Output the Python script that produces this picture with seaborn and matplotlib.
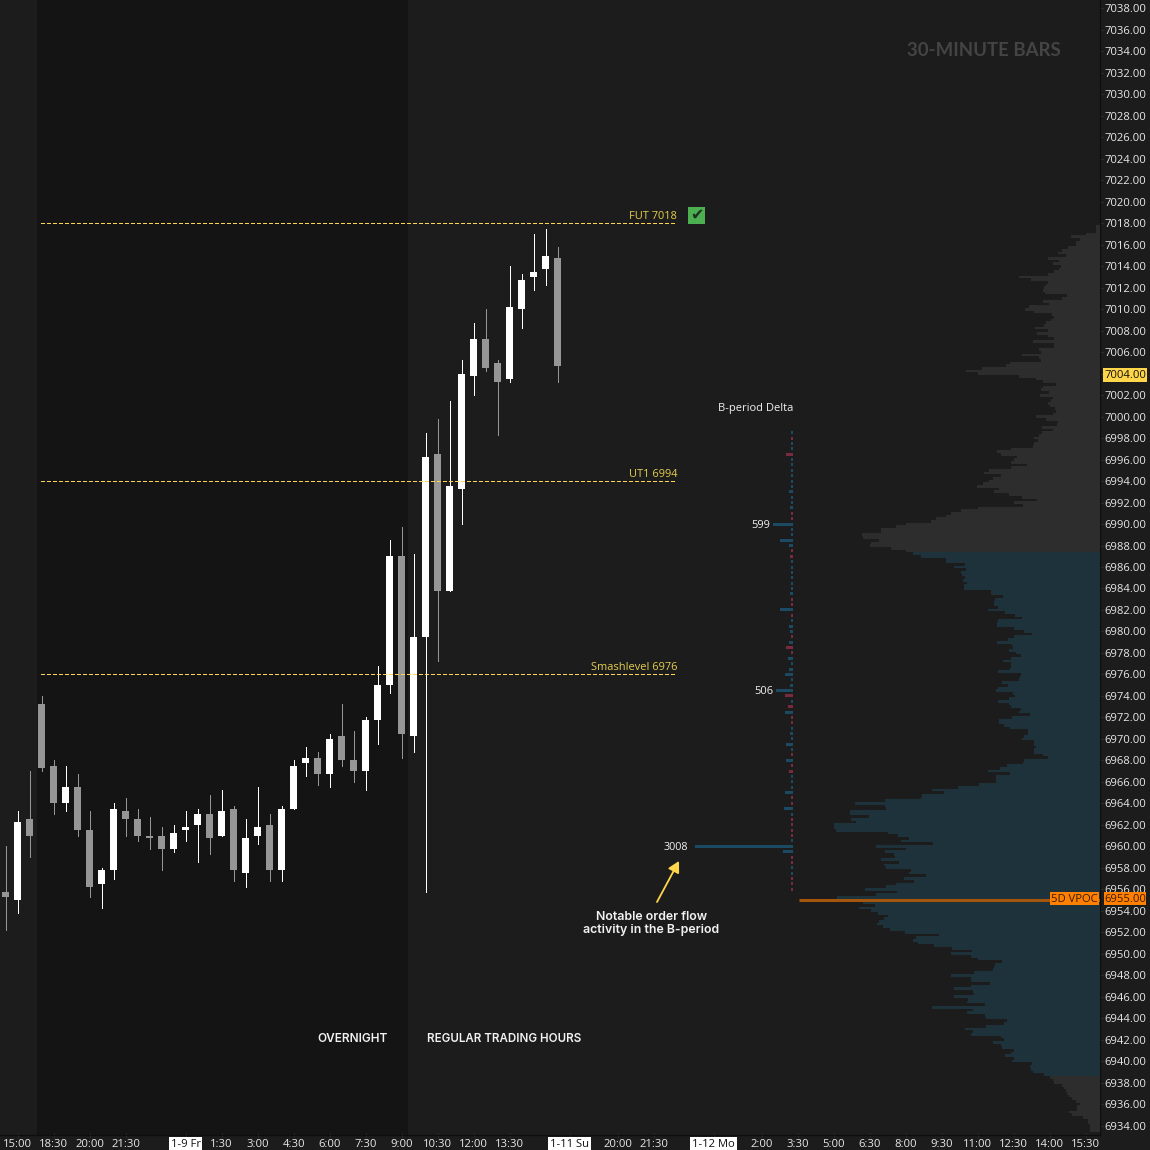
import numpy as np
import pandas as pd
import seaborn as sns
import matplotlib.pyplot as plt
from matplotlib.patches import Rectangle

# 30-minute bars, oldest first
opens = [6955.75, 6955, 6962.5, 6973.25, 6967.5, 6964, 6965.5, 6961.5, 6956.5, 6957.75,
         6963.25, 6962.5, 6961, 6961, 6959.75, 6961.5, 6962, 6963, 6961, 6963.5,
         6957.5, 6961, 6962, 6957.75, 6963.5, 6967.75, 6968.25, 6966.75, 6970.25, 6968,
         6967, 6971.75, 6975, 6987, 6970.25, 6979.5, 6996.5, 6983.75, 6993.25, 7003.75,
         7007.25, 7005, 7003.5, 7010, 7013, 7013.75, 7014.75]
highs = [6960, 6963.25, 6967, 6974, 6968, 6967.5, 6966.75, 6963.25, 6958, 6964,
         6964.5, 6963.5, 6962.75, 6961.75, 6962, 6963.25, 6963.5, 6964.75, 6965.25, 6963.75,
         6962.5, 6965.5, 6963, 6963.75, 6968, 6969.25, 6968.75, 6970.5, 6973.25, 6970.75,
         6972, 6976.75, 6988.5, 6989.75, 6987.25, 6998.5, 6999.75, 7001.5, 7005.25, 7008.75,
         7010, 7005.25, 7014, 7013.25, 7017, 7017.5, 7015.75]
lows = [6952.25, 6953.75, 6959, 6967, 6963, 6963.25, 6961, 6955.25, 6954.25, 6957,
        6961, 6960.5, 6959.75, 6957.75, 6959.5, 6960.5, 6958.5, 6959.25, 6961, 6956.75,
        6956.25, 6960.25, 6956.75, 6956.75, 6963.5, 6966.5, 6965.75, 6965.5, 6967.5, 6966,
        6965.25, 6969.5, 6974.25, 6968.25, 6968.75, 6955.75, 6977.25, 6983.75, 6990, 7002,
        7004.25, 6998.25, 7003.25, 7008.25, 7011.75, 7012.25, 7003.25]
closes = [6955.25, 6962.25, 6961, 6967.25, 6964, 6965.5, 6961.5, 6956.25, 6957.75, 6963.5,
          6962.5, 6961, 6960.75, 6959.75, 6961.25, 6961.75, 6963, 6960.75, 6963.25, 6957.75,
          6960.75, 6961.75, 6957.75, 6963.5, 6967.5, 6968.25, 6966.75, 6970, 6968, 6967,
          6971.75, 6975, 6987, 6970.5, 6979.5, 6996.25, 6983.75, 6993.5, 7004, 7007.25,
          7004.5, 7003.25, 7010.25, 7012.75, 7013.5, 7015, 7004.75]

# volume profile, one value per 0.25 price row, top row first (relative volume)
profile_top_price = 7017.75
profile_upper = [4, 4, 4, 14, 29, 20, 24, 24, 32, 38, 42, 34, 52, 41, 47, 39, 41, 46, 52, 81,
                 69, 52, 54, 56, 57, 55, 33, 38, 57, 51, 71, 75, 66, 48, 46, 49, 54, 56, 65, 52,
                 63, 52, 46, 67, 46, 46, 61, 59, 78, 61, 59, 90, 94, 118, 134, 122, 81, 64, 57, 44,
                 57, 59, 51, 60, 47, 49, 52, 50, 45, 44, 47, 64, 54, 42, 43, 58, 47, 58, 61, 66,
                 62, 66, 67, 89, 103, 99, 83, 86, 89, 73, 89, 111, 116, 99, 107, 111, 117, 123, 101, 106,
                 91, 78, 63, 86, 77, 122, 139, 149, 154, 164, 169, 194, 204, 219, 219, 238, 237, 221, 229, 230,
                 209, 194]
profile_value_area = [187, 179, 154, 154, 135, 146, 134, 139, 138, 135, 137, 133, 136, 136, 109, 109, 97, 105, 106, 106,
                      102, 112, 95, 85, 78, 102, 103, 103, 86, 76, 68, 86, 92, 103, 88, 87, 91, 84, 79, 89,
                      97, 89, 89, 90, 102, 79, 80, 81, 98, 92, 102, 104, 87, 85, 91, 102, 91, 89, 79, 81,
                      70, 88, 101, 101, 96, 90, 72, 72, 76, 78, 66, 66, 64, 66, 66, 57, 52, 76, 77, 93,
                      100, 112, 90, 104, 104, 104, 121, 142,
                      168, 156, 178, 179, 215, 245, 215, 214, 250, 250, 231, 249, 244, 266, 266, 264, 212, 202, 191, 199,
                      167, 224, 194, 215, 206, 205, 219, 201, 216, 214, 189, 191, 174, 196, 186, 204, 214, 235, 203, 224,
                      263, 300, 237, 225, 241, 229, 222, 212, 216, 221, 223, 217, 210, 195, 161, 184, 187, 182, 166, 148,
                      128, 149, 129, 122, 98, 105, 106, 107, 126, 149, 129, 129, 110, 129, 146, 127, 126, 146, 132, 133,
                      115, 168, 127, 133, 115, 114, 93, 96, 114, 135, 127, 129, 99, 96, 107, 99, 98, 86, 89, 95,
                      86, 88, 68, 70, 69, 67, 56]
profile_lower = [50, 47, 46, 38, 36, 34, 33, 31, 28, 24, 20, 23, 23, 31, 28, 17, 12, 12, 10, 10, 10]

# B-period delta, one value per 0.5 price row, top row first; negative = sellers
delta_top_price = 6998.5
delta_values = [60, -31, 31, 31, -185, 31, 31, 31, 31, 31,
                60, 120, 31, 31, 90, -31, -31, 599, 31, 60,
                370, 120, -31, -90, 31, 31, 60, 31, 31, 60,
                90, -60, -60, 370, -31, 31, 120, 90, -31, 120,
                -185, -31, 150, 31, 120, 215, 31, 90, 506, -245,
                31, -150, 215, -31, -31, 60, 90, 31, 185, 31,
                -31, 185, -31, -120, 31, 31, 31, 245, -31, -31,
                275, 60, -31, -31, -31, -60, 31, 3008, 305, -60,
                -31, 31, 31, -31, -60, -31]

# session shading, levels and axis labels
overnight_start, overnight_end = 2.64, 33.54
level_names = ["FUT 7018", "UT1 6994", "Smashlevel 6976"]
level_prices = [7018, 6994, 6976]
vpoc_price = 6955
last_price = 7004
price_ticks = list(range(6934, 7040, 2))
time_tick_pos = [1, 4, 7, 10, 15, 18, 21, 24, 27, 30, 33, 36, 39, 42, 47, 51, 54, 59, 63, 66, 69, 72, 75, 78, 81, 84, 87, 90]
time_tick_labels = ["15:00", "18:30", "20:00", "21:30", "1-9 Fr", "1:30", "3:00", "4:30", "6:00", "7:30", "9:00",
                    "10:30", "12:00", "13:30", "1-11 Su", "20:00", "21:30", "1-12 Mo", "2:00", "3:30", "5:00",
                    "6:30", "8:00", "9:30", "11:00", "12:30", "14:00", "15:30"]
date_labels = ["1-9 Fr", "1-11 Su", "1-12 Mo"]

BG = "#1c1c1c"
SHADE = "#141414"
WHITE = "#ffffff"
GRAY = "#969696"
YELLOW = "#ffd54a"
ORANGE = "#ff7f00"
TICK_FONT = ["Open Sans", "DejaVu Sans"]
NOTE_FONT = ["Inter", "DejaVu Sans"]

sns.set_theme(style="dark", rc={"figure.facecolor": BG, "axes.facecolor": BG, "savefig.facecolor": BG})
plt.rcParams["font.family"] = TICK_FONT

W, H = 1150, 1150
PLOT_W, PLOT_H = 1100, 1135
fig = plt.figure(figsize=(W / 100, H / 100), dpi=100)
rect = [0, (H - PLOT_H) / H, PLOT_W / W, PLOT_H / H]
ylim = (6933.12, 7038.79)
xlim = (-5.5 / 12, (PLOT_W - 5.5) / 12)


def px(x, y, text, **kw):
    # place a text by its pixel position in the picture
    return fig.text(x / W, 1 - y / H, text, **kw)


ax = fig.add_axes(rect)
ax.set_facecolor(BG)

# price axis and time axis
ax.yaxis.tick_right()
ax.set_yticks(price_ticks)
ax.set_yticklabels([f"{p}.00" for p in price_ticks], fontsize=8.1, color="#e8e8e8")
ax.set_xticks(time_tick_pos)
ax.set_xticklabels(time_tick_labels, fontsize=8.1, color="#e8e8e8")
ax.tick_params(axis="y", length=2, width=0.7, color="#333333", pad=1, right=True, left=False)
ax.tick_params(axis="x", length=3, width=0.7, color="#333333", pad=1.5, bottom=True, direction="inout")
for name, spine in ax.spines.items():
    spine.set_visible(name in ("right", "bottom"))
    spine.set_color("#0e0e0e")
    spine.set_linewidth(1.0)
for label in ax.get_xticklabels():
    if label.get_text() in date_labels:
        label.set_color("#111111")
        label.set_bbox(dict(facecolor=WHITE, edgecolor="none", pad=1.2))
for label in ax.get_yticklabels():
    if label.get_text() == f"{last_price}.00":
        label.set_color("#111111")
        label.set_bbox(dict(facecolor=YELLOW, edgecolor="none", pad=1.0))

ax.axvspan(overnight_start, overnight_end, color=SHADE, lw=0, zorder=0)

# candles
x = np.arange(len(opens))
o, hi, lo, c = map(np.array, (opens, highs, lows, closes))
colors = [WHITE if cl >= op else GRAY for op, cl in zip(o, c)]
ax.vlines(x, lo, hi, colors=colors, lw=0.72, zorder=3, antialiased=False)
ax.bar(x, np.abs(c - o), bottom=np.minimum(o, c), width=7 / 12, color=colors, lw=0, zorder=4, antialiased=False)

# levels
for name, price in zip(level_names, level_prices):
    ax.plot([(41 - 5.5) / 12, (676 - 5.5) / 12], [price, price], color=YELLOW, lw=0.72,
            dashes=(4, 2.2), zorder=5, antialiased=False)
    ax.annotate(name, xy=((677 - 5.5) / 12, price), xytext=(0, 0.8), textcoords="offset points",
                ha="right", va="bottom", fontsize=7.9, color="#e6cf4e", zorder=6)
ax.set_xlim(xlim)
ax.set_ylim(ylim)

# volume profile, unit = one pixel from the right edge of the plot
n_up, n_va, n_lo = len(profile_upper), len(profile_value_area), len(profile_lower)
profile = pd.DataFrame({
    "price": profile_top_price - 0.25 * np.arange(n_up + n_va + n_lo),
    "volume": profile_upper + profile_value_area + profile_lower,
    "zone": ["out"] * n_up + ["va"] * n_va + ["out"] * n_lo,
})
ax_p = fig.add_axes(rect)
ax_p.patch.set_alpha(0)
sns.barplot(data=profile, y="price", x="volume", hue="zone", orient="y", native_scale=True,
            dodge=False, width=1, palette={"out": "#2d2d2d", "va": "#1e323c"}, saturation=1,
            errorbar=None, legend=False, linewidth=0, ax=ax_p)
ax_p.set_xlim(PLOT_W, 0)
ax_p.set_ylim(ylim)
ax_p.axis("off")
for bar in ax_p.patches:
    bar.set_antialiased(False)

# B-period delta, unit = contracts, drawn to the left of x = 792.5 px
delta = pd.DataFrame({
    "price": delta_top_price - 0.5 * np.arange(len(delta_values)),
    "size": np.abs(delta_values),
    "side": ["buy" if v > 0 else "sell" for v in delta_values],
})
scale = 3008 / 98
ax_d = fig.add_axes(rect)
ax_d.patch.set_alpha(0)
sns.barplot(data=delta, y="price", x="size", hue="side", orient="y", native_scale=True, dodge=False,
            width=0.56, palette={"buy": "#1d4a63", "sell": "#7a2a40"}, saturation=1, errorbar=None,
            legend=False, linewidth=0, ax=ax_d)
ax_d.set_xlim(792.5 * scale, (792.5 - PLOT_W) * scale)
ax_d.set_ylim(ylim)
ax_d.axis("off")
for bar in ax_d.patches:
    bar.set_antialiased(False)

# point of control across the profile
ax_d.plot([(792.5 - 799) * scale, (792.5 - PLOT_W) * scale], [vpoc_price, vpoc_price],
          color="#a3560c", lw=2.2, solid_capstyle="butt", zorder=5)

# boxes for the VPOC
fig.add_artist(Rectangle((1050 / W, 1 - 905 / H), 49 / W, 13 / H, color=ORANGE, lw=0))
fig.add_artist(Rectangle((1104 / W, 1 - 905 / H), 42 / W, 13 / H, color=ORANGE, lw=0))
px(1074, 899, "5D VPOC", fontsize=8.1, color="#3a1c00", ha="center", va="center")
px(1125, 899, f"{vpoc_price}.00", fontsize=8.1, color="#3a1c00", ha="center", va="center")

# check mark next to the FUT level
fig.add_artist(Rectangle((688 / W, 1 - 224 / H), 17 / W, 17 / H, color="#4caf50", lw=0))
px(696.5, 215.5, "\u2714", fontsize=11.5, color="#1c3320", ha="center", va="center",
   family="DejaVu Sans")

# notes
px(984, 51, "30-MINUTE BARS", fontsize=13.4, color="#444444", ha="center", va="center",
   family=["Lato", "DejaVu Sans"], fontweight="bold")
px(755.5, 408.5, "B-period Delta", fontsize=8, color="#f0f0f0", ha="center", va="center")
px(770, 525, "599", fontsize=8, color="#f0f0f0", ha="right", va="center")
px(773, 691, "506", fontsize=8, color="#f0f0f0", ha="right", va="center")
px(688, 847, "3008", fontsize=7.8, color="#f0f0f0", ha="right", va="center")
px(353, 1038.5, "OVERNIGHT", fontsize=8.5, color="#f2f2f2", ha="center", va="center",
   family=NOTE_FONT, fontweight="semibold")
px(504, 1038.5, "REGULAR TRADING HOURS", fontsize=8.3, color="#f2f2f2", ha="center", va="center",
   family=NOTE_FONT, fontweight="semibold")
px(651.5, 923.5, "Notable order flow\nactivity in the B-period", fontsize=8.9, color="#f2f2f2",
   ha="center", va="center", family=NOTE_FONT, fontweight="semibold", linespacing=1.22)
fig.add_artist(plt.Annotation("", xy=(679 / W, 1 - 861 / H), xytext=(657 / W, 1 - 902 / H),
                              xycoords="figure fraction", textcoords="figure fraction",
                              arrowprops=dict(arrowstyle="-|>,head_width=0.3,head_length=0.55",
                                              color=YELLOW, lw=1.3, shrinkA=0, shrinkB=0)))

fig.savefig("out.png", dpi=100)
